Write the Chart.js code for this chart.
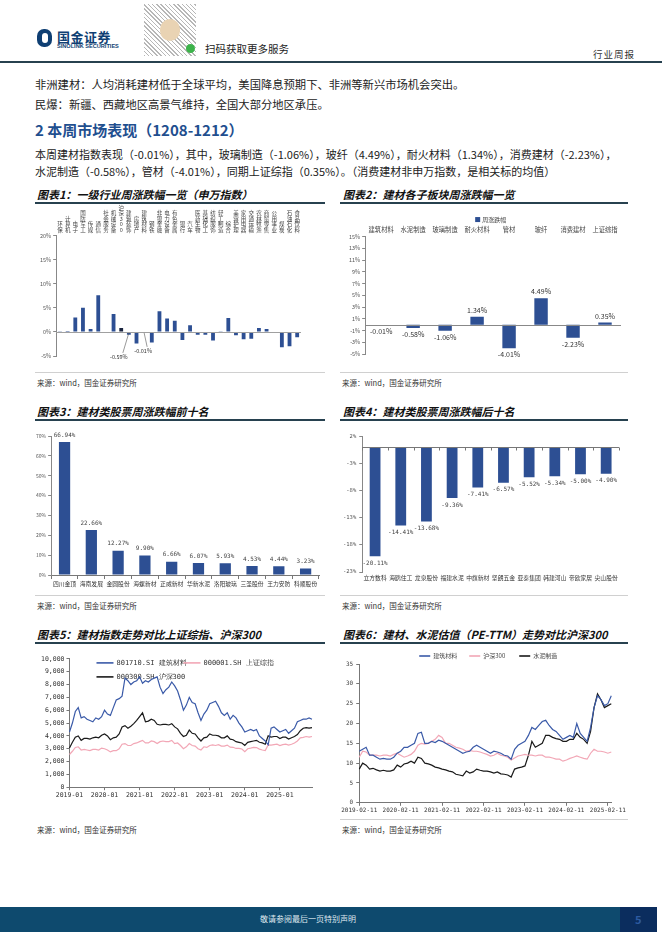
<!DOCTYPE html>
<html><head><meta charset="utf-8">
<script src="https://cdn.jsdelivr.net/npm/chart.js@4.4.1/dist/chart.umd.min.js"></script>
<style>
body{margin:0;width:662px;height:936px;position:relative;background:#fff;font-family:"Noto Sans CJK SC",sans-serif;overflow:hidden;color:#222}
.abs{position:absolute;white-space:nowrap}
.txt{font-size:11.3px;left:35px;color:#222}
.title{font-size:11px;font-weight:bold;font-style:italic;color:#111}
.uline{height:1.5px;background:#27414f}
.src{font-size:7.5px;color:#333}
.sep{height:1px;background:#d0d0d0}
canvas{position:absolute}
</style></head><body>
<!-- header -->
<div class="abs" style="left:37px;top:29px;width:15px;height:18px;border-radius:7px;background:#0f3f73"></div>
<div class="abs" style="left:42px;top:33px;width:6px;height:10px;border-radius:3px;background:#fff"></div>
<div class="abs" style="left:57px;top:27px;font-size:13px;font-weight:bold;color:#0f3f73;letter-spacing:0.5px">国金证券</div>
<div class="abs" style="left:57px;top:43px;font-size:5.6px;font-weight:bold;color:#0f3f73;font-family:'Liberation Sans',sans-serif">SINOLINK SECURITIES</div>
<div class="abs" style="left:144px;top:4px;width:52px;height:52px;background:repeating-linear-gradient(45deg,#999 0 1px,#fff 1px 3px),repeating-linear-gradient(-45deg,#bbb 0 1px,transparent 1px 4px);opacity:0.7"></div>
<div class="abs" style="left:160px;top:19px;width:20px;height:22px;border-radius:10px;background:#e9d3b3"></div>
<div class="abs" style="left:186px;top:44px;width:9px;height:9px;border-radius:5px;background:#3cb34a"></div>
<div class="abs" style="left:205px;top:41px;font-size:10.5px;color:#222">扫码获取更多服务</div>
<div class="abs" style="left:593px;top:47px;font-size:9.5px;color:#333;letter-spacing:1px">行业周报</div>
<div class="abs" style="left:0;top:61px;width:662px;height:1.5px;background:#27414f"></div>

<div class="abs txt" style="top:76px">非洲建材：人均消耗建材低于全球平均，美国降息预期下、非洲等新兴市场机会突出。</div>
<div class="abs txt" style="top:96px">民爆：新疆、西藏地区高景气维持，全国大部分地区承压。</div>
<div class="abs" style="left:35px;top:119px;font-size:15px;font-weight:bold;color:#1f4f8f">2 本周市场表现（1208-1212）</div>
<div class="abs txt" style="top:146px;font-size:11px">本周建材指数表现（-0.01%），其中，玻璃制造（-1.06%），玻纤（4.49%），耐火材料（1.34%），消费建材（-2.23%），</div>
<div class="abs txt" style="top:163px;font-size:11px">水泥制造（-0.58%），管材（-4.01%），同期上证综指（0.35%）。（消费建材非申万指数，是相关标的均值）</div>

<!-- chart titles row 1 -->
<div class="abs title" style="left:37px;top:186px">图表1：一级行业周涨跌幅一览（申万指数）</div>
<div class="abs uline" style="left:35px;top:202px;width:290px"></div>
<div class="abs title" style="left:343px;top:186px">图表2：建材各子板块周涨跌幅一览</div>
<div class="abs uline" style="left:340px;top:202px;width:288px"></div>
<div class="abs sep" style="left:35px;top:372px;width:290px"></div>
<div class="abs sep" style="left:340px;top:372px;width:288px"></div>
<div class="abs src" style="left:37px;top:377px">来源：wind，国金证券研究所</div>
<div class="abs src" style="left:342px;top:377px">来源：wind，国金证券研究所</div>

<div class="abs title" style="left:37px;top:403px">图表3：建材类股票周涨跌幅前十名</div>
<div class="abs uline" style="left:35px;top:419px;width:290px"></div>
<div class="abs title" style="left:343px;top:403px">图表4：建材类股票周涨跌幅后十名</div>
<div class="abs uline" style="left:340px;top:419px;width:288px"></div>
<div class="abs sep" style="left:35px;top:595px;width:290px"></div>
<div class="abs sep" style="left:340px;top:595px;width:288px"></div>
<div class="abs src" style="left:37px;top:600px">来源：wind，国金证券研究所</div>
<div class="abs src" style="left:342px;top:600px">来源：wind，国金证券研究所</div>

<div class="abs title" style="left:37px;top:626px">图表5：建材指数走势对比上证综指、沪深300</div>
<div class="abs uline" style="left:35px;top:642px;width:290px"></div>
<div class="abs title" style="left:343px;top:626px">图表6：建材、水泥估值（PE-TTM）走势对比沪深300</div>
<div class="abs uline" style="left:340px;top:642px;width:288px"></div>
<div class="abs sep" style="left:340px;top:819px;width:288px"></div>
<div class="abs src" style="left:37px;top:824px">来源：wind，国金证券研究所</div>
<div class="abs src" style="left:342px;top:824px">来源：wind，国金证券研究所</div>

<!-- footer -->
<div class="abs" style="left:0;top:907px;width:620px;height:25px;background:#0e4a6e"></div>
<div class="abs" style="left:620px;top:907px;width:37px;height:25px;background:#0b2d5e"></div>
<div class="abs" style="left:260px;top:913px;font-size:8px;color:#dfe8ef">敬请参阅最后一页特别声明</div>
<div class="abs" style="left:635px;top:911px;font-size:11px;color:#2d5aa0;font-weight:bold">5</div>

<canvas id="c1" width="270" height="166" style="left:35px;top:200px"></canvas>
<canvas id="c2" width="292" height="150" style="left:335px;top:210px"></canvas>
<canvas id="c3" width="295" height="159" style="left:30px;top:431px"></canvas>
<canvas id="c4" width="292" height="155" style="left:335px;top:430px"></canvas>
<canvas id="c5" width="292" height="147" style="left:30px;top:653px"></canvas>
<canvas id="c6" width="292" height="168" style="left:335px;top:647px"></canvas>

<script>
// ---------- data ----------
const c1Labels = ['环保','计算机','电子','国防军工','传媒','通信','社会服务','机械设备','沪深300','建筑装饰','房地产','建筑材料','钢铁','非银金融','电力设备','有色金属','银行','汽车','医药生物','基础化工','纺织服饰','轻工制造','综合','美容护理','家用电器','交通运输','农林牧渔','商贸零售','公用事业','煤炭','石油石化','食品饮料'];
const c1Values = [0.05,0.2,3.0,5.0,0.6,7.6,0.1,3.7,0.8,-0.59,-2.4,-0.01,-2.2,4.3,2.8,2.3,-1.7,1.4,-0.6,-0.6,-1.8,0.05,2.9,-0.7,-1.5,-1.4,0.8,0.6,-0.1,-3.2,-3.0,-1.1];

const c2Labels = ['建筑材料','水泥制造','玻璃制造','耐火材料','管材','玻纤','消费建材','上证综指'];
const c2Values = [-0.01,-0.58,-1.06,1.34,-4.01,4.49,-2.23,0.35];

const c3Labels = ['四川金顶','海南发展','金圆股份','海螺新材','正威新材','华新水泥','洛阳玻璃','三圣股份','王力安防','科顺股份'];
const c3Values = [66.94,22.66,12.27,9.90,6.66,6.07,5.93,4.53,4.44,3.23];

const c4Labels = ['立方数科','海鸥住工','龙泉股份','福建水泥','中旗新材','坚朗五金','亚泰集团','韩建河山','帝欧家居','尖山股份'];
const c4Values = [-20.11,-14.41,-13.68,-9.36,-7.41,-6.57,-5.52,-5.34,-5.00,-4.90];

const c5Months = [];
for (let y = 2019; y <= 2025; y++) for (let m = 1; m <= 12; m++) c5Months.push(y + '-' + String(m).padStart(2,'0'));
const c5Building = [4300,5000,5900,6200,5400,5500,5300,5200,5100,5400,5300,5500,
 6000,5700,5600,6200,6800,6900,7100,8500,8300,8000,8200,8300,
 8600,8100,8300,8200,8400,8500,8600,7800,7300,7600,7800,8200,
 7900,7500,6800,6000,6400,7000,6600,6500,5800,5200,5700,6000,
 6500,6600,6700,6300,5800,5600,5800,5300,5600,5400,5000,4700,
 4300,4400,4500,4400,4500,4000,3800,3600,3300,4600,4700,4500,
 4300,4400,4500,4200,4400,4600,5100,5200,5300,5300,5400,5300];
const c5SSE = [2550,2800,3100,3150,2900,2950,2900,2850,2950,2950,2900,3050,
 3000,2900,2750,2850,2850,3000,3350,3400,3250,3250,3400,3450,
 3550,3650,3450,3450,3600,3550,3400,3550,3600,3550,3550,3650,
 3400,3450,3250,3000,3150,3400,3250,3200,3000,2900,3150,3100,
 3250,3300,3250,3320,3200,3200,3280,3120,3110,3020,3030,2980,
 2770,3000,3040,3100,3090,2970,2900,2850,3300,3280,3320,3350,
 3250,3320,3350,3280,3350,3450,3600,3850,3880,3950,3900,3950];
const c5HS300 = [3050,3500,3900,4000,3650,3800,3800,3750,3850,3900,3850,4050,
 4150,4000,3700,3850,3900,4150,4700,4800,4600,4750,4950,5200,
 5500,5800,5100,5150,5300,5200,4900,4850,4900,4900,4850,4950,
 4700,4550,4200,3950,4050,4450,4200,4150,3850,3600,3850,3900,
 4150,4050,4050,4000,3850,3850,4000,3750,3700,3550,3500,3450,
 3250,3500,3550,3600,3650,3500,3450,3350,4000,3900,3950,3950,
 3800,3900,3900,3750,3850,3950,4100,4400,4600,4650,4600,4650];

const c6Dates = [];
for (let i = 0; i < 74; i++) { const t = 1 + i; const y = 2019 + Math.floor(t/12); const m = t % 12 + 1; c6Dates.push(y + '-' + String(m).padStart(2,'0') + '-11'); }
const c6Building = [13,13.5,14,12,12,11.5,11,11.2,11,11,11.5,12.5,
 13,14,14,14.5,15,17.5,17.8,15,15,15.5,15.2,15.8,
 15.5,15,14.5,14,13.5,13,12.5,12.8,13,14,14.5,14,
 13.5,13,12.5,13,12.8,12.5,12,11.8,11,13.5,14.5,15,
 15.5,17,19,18.5,19.5,20.5,20.8,19.5,18.5,18,17,16,
 16.5,17,16.5,20,17.5,16.5,15.5,19,24,27,26,24.5,25,27];
const c6HS300 = [11.5,13,12.8,12,12,12,11.8,12,12,11.8,12.2,12.5,
 12,11.5,11.8,12.2,13,14.5,15,14.8,15,15.5,16,17,
 16.5,15,15,14.5,14,13.8,13.5,13,13.2,13,13,12.8,
 12.5,12.2,11.8,12,12.5,12,11.8,11.5,10.8,11.3,11.8,12,
 12.2,12,12,11.8,12,12,11.5,11.5,11.3,11,11,10.5,
 10.8,11.2,11.5,11.8,11.5,11.2,11,12.5,13.5,13,13,12.8,12.5,12.8];
const c6Cement = [8.5,10,9.5,8.5,8.7,8.3,8,8.2,8,8,8.3,9.5,
 9,9.8,10,10.5,10,11.5,11.2,10,9.8,9.5,9,8.8,
 8.5,8.3,8,7.8,7.2,7,6.8,8,7.5,7.8,8.5,8.2,
 8,8,7.8,7.5,7.8,7.3,7.2,7,6.5,8.5,8.8,9,
 9.3,12,15.5,14,14.5,15,17,17,16.5,16.2,16,15.5,
 15.5,16,16,17.5,16.5,16,15,18,24,27.5,26,24,24.5,25];

// ---------- helpers ----------
const BLUE = '#2d4f93';
const SANS = '"Noto Sans CJK SC", sans-serif';
const MONO = '"DejaVu Sans Mono", "Liberation Mono", monospace';

const valueLabels = {
  id: 'valueLabels',
  afterDatasetsDraw(chart, args, opts) {
    if (!opts || !opts.fmt) return;
    const ctx = chart.ctx, meta = chart.getDatasetMeta(0), data = chart.data.datasets[0].data;
    ctx.save(); ctx.font = opts.font; ctx.fillStyle = opts.color || '#333'; ctx.textAlign = 'center';
    meta.data.forEach((bar, i) => {
      const v = data[i]; const t = opts.fmt(v, i); if (t == null) return;
      if (v >= 0) { ctx.textBaseline = 'bottom'; ctx.fillText(t, bar.x, bar.y - (opts.gap || 3)); }
      else { ctx.textBaseline = 'top'; ctx.fillText(t, bar.x, bar.y + (opts.gap || 3)); }
    });
    ctx.restore();
  }
};
const zeroLine = {
  id: 'zeroLine',
  afterDatasetsDraw(chart, args, opts) {
    if (!opts || !opts.color) return;
    const y = Math.round(chart.scales.y.getPixelForValue(0)) + 0.5, a = chart.chartArea, ctx = chart.ctx;
    ctx.save(); ctx.strokeStyle = opts.color; ctx.lineWidth = 1;
    ctx.beginPath(); ctx.moveTo(a.left, y); ctx.lineTo(a.right, y); ctx.stroke();
    if (opts.ticks) {
      const n = chart.data.labels.length; const w = (a.right - a.left) / n;
      for (let i = 0; i <= n; i++) { const x = Math.round(a.left + i * w) + 0.5; ctx.beginPath(); ctx.moveTo(x, y); ctx.lineTo(x, y + 3); ctx.stroke(); }
    }
    ctx.restore();
  }
};
// legend drawn at fixed offsets from the chart area (items: [dx, dy, kind])
const fixedLegend = {
  id: 'fixedLegend',
  beforeDatasetsDraw(chart, args, opts) {
    if (!opts || !opts.items) return;
    const ctx = chart.ctx, a = chart.chartArea, ds = chart.data.datasets;
    ctx.save(); ctx.font = opts.font; ctx.textBaseline = 'middle'; ctx.fillStyle = opts.color || '#333';
    opts.items.forEach((it, i) => {
      const d = ds[i], x = a.left + it[0], y = a.top + it[1];
      if (opts.box) { ctx.fillStyle = d.backgroundColor; ctx.fillRect(x, y - 2.5, 5, 5); ctx.fillStyle = opts.color || '#333'; ctx.fillText(d.label, x + 7, y); }
      else {
        ctx.strokeStyle = d.borderColor; ctx.lineWidth = 1.6;
        ctx.beginPath(); ctx.moveTo(x, y); ctx.lineTo(x + opts.len, y); ctx.stroke();
        ctx.fillText(d.label, x + opts.len + 3, y);
      }
    });
    ctx.restore();
  }
};
const pct = v => v + '%';

// ---------- chart 1 ----------
const c1Callouts = {
  id: 'c1Callouts',
  afterDatasetsDraw(chart) {
    const ctx = chart.ctx, xs = chart.scales.x, ys = chart.scales.y;
    const items = [{i: 9, dx: -10, dy: 21}, {i: 11, dx: -1, dy: 15}];
    ctx.save(); ctx.strokeStyle = '#555'; ctx.lineWidth = 0.6; ctx.fillStyle = '#333';
    ctx.font = '5.5px ' + SANS; ctx.textAlign = 'center'; ctx.textBaseline = 'top';
    items.forEach(it => {
      const x = xs.getPixelForValue(it.i), y = ys.getPixelForValue(0);
      ctx.beginPath(); ctx.moveTo(x, y + 1); ctx.lineTo(x + it.dx + 4, y + it.dy); ctx.stroke();
      ctx.fillText(c1Values[it.i].toFixed(2) + '%', x + it.dx, y + it.dy + 1);
    });
    ctx.restore();
  }
};
new Chart(document.getElementById('c1'), {
  type: 'bar',
  data: { labels: c1Labels.map(s => s.split('')), datasets: [{ data: c1Values,
    backgroundColor: c1Values.map((v, i) => i === 8 ? '#1b2540' : BLUE), barPercentage: 0.5, categoryPercentage: 1 }] },
  options: {
    responsive: false, animation: false,
    layout: { padding: { left: 3, right: 4, top: 2, bottom: 10 } },
    plugins: { legend: { display: false }, tooltip: { enabled: false }, zeroLine: { color: '#a0a0a0' } },
    scales: {
      x: { position: 'top', grid: { display: false, drawTicks: false }, border: { display: false },
        ticks: { autoSkip: false, maxRotation: 0, padding: 3, color: '#444', font: { size: 5.5, family: SANS, lineHeight: 1.0 } } },
      y: { min: -5, max: 20, ticks: { stepSize: 5, callback: pct, color: '#555', font: { size: 5.5, family: SANS }, padding: 2 },
        grid: { display: true, drawOnChartArea: false, tickLength: 3, color: '#888' }, border: { color: '#888' } }
    }
  },
  plugins: [zeroLine, c1Callouts]
});

// ---------- chart 2 ----------
new Chart(document.getElementById('c2'), {
  type: 'bar',
  data: { labels: c2Labels, datasets: [{ label: '周涨跌幅', data: c2Values, backgroundColor: BLUE, barPercentage: 0.42, categoryPercentage: 1 }] },
  options: {
    responsive: false, animation: false,
    layout: { padding: { left: 12, right: 6, top: 13, bottom: 6 } },
    plugins: { legend: { display: false }, tooltip: { enabled: false }, zeroLine: { color: '#888' },
      fixedLegend: { items: [[110, -17]], box: true, font: '6px ' + SANS, color: '#444' },
      valueLabels: { fmt: v => v.toFixed(2) + '%', font: '7px ' + SANS, color: '#333', gap: 3 } },
    scales: {
      x: { position: 'top', grid: { display: false, drawTicks: false }, border: { display: false },
        ticks: { autoSkip: false, maxRotation: 0, padding: 3, color: '#444', font: { size: 6.3, family: SANS } } },
      y: { min: -5, max: 15, ticks: { stepSize: 2, callback: pct, color: '#555', font: { size: 5.5, family: SANS }, padding: 2 },
        grid: { display: true, drawOnChartArea: false, tickLength: 3, color: '#888' }, border: { color: '#888' } }
    }
  },
  plugins: [zeroLine, valueLabels, fixedLegend]
});

// ---------- chart 3 ----------
new Chart(document.getElementById('c3'), {
  type: 'bar',
  data: { labels: c3Labels, datasets: [{ data: c3Values, backgroundColor: BLUE, barPercentage: 0.42, categoryPercentage: 1 }] },
  options: {
    responsive: false, animation: false,
    layout: { padding: { left: 4, right: 6, top: 5, bottom: 2 } },
    plugins: { legend: { display: false }, tooltip: { enabled: false },
      valueLabels: { fmt: v => v.toFixed(2) + '%', font: '6px ' + MONO, color: '#444', gap: 4 } },
    scales: {
      x: { grid: { display: true, drawOnChartArea: false, tickLength: 4, color: '#777', offset: true }, border: { color: '#777' },
        ticks: { autoSkip: false, maxRotation: 0, padding: 1, color: '#333', font: { size: 5.8, family: SANS } } },
      y: { min: 0, max: 70, ticks: { stepSize: 10, callback: pct, color: '#555', font: { size: 5, family: SANS }, padding: 2 },
        grid: { display: true, drawOnChartArea: false, tickLength: 3, color: '#888' }, border: { color: '#888' } }
    }
  },
  plugins: [valueLabels]
});

// ---------- chart 4 ----------
new Chart(document.getElementById('c4'), {
  type: 'bar',
  data: { labels: c4Labels, datasets: [{ data: c4Values, backgroundColor: BLUE, barPercentage: 0.42, categoryPercentage: 1 }] },
  options: {
    responsive: false, animation: false,
    layout: { padding: { left: 5, right: 8, top: 6, bottom: 2 } },
    plugins: { legend: { display: false }, tooltip: { enabled: false }, zeroLine: { color: '#777', ticks: true },
      valueLabels: { fmt: v => v.toFixed(2) + '%', font: '6px ' + MONO, color: '#444', gap: 4 } },
    scales: {
      x: { grid: { display: false, drawTicks: false }, border: { display: false },
        ticks: { autoSkip: false, maxRotation: 0, padding: 2, color: '#333', font: { size: 5.8, family: SANS } } },
      y: { min: -23, max: 2, ticks: { stepSize: 5, callback: pct, color: '#555', font: { size: 5.5, family: MONO }, padding: 3 },
        grid: { display: true, drawOnChartArea: false, tickLength: 3, color: '#888' }, border: { color: '#888' } }
    }
  },
  plugins: [zeroLine, valueLabels]
});

// ---------- chart 5 ----------
new Chart(document.getElementById('c5'), {
  type: 'line',
  data: { labels: c5Months, datasets: [
    { label: '801710.SI 建筑材料', data: c5Building, borderColor: '#3a5aa8', borderWidth: 1.2, pointRadius: 0, tension: 0 },
    { label: '000001.SH 上证综指', data: c5SSE, borderColor: '#f2a7b6', borderWidth: 1.2, pointRadius: 0, tension: 0 },
    { label: '000300.SH 沪深300', data: c5HS300, borderColor: '#1a1a1a', borderWidth: 1.2, pointRadius: 0, tension: 0 }
  ] },
  options: {
    responsive: false, animation: false,
    layout: { padding: { left: 9, right: 10, top: 3, bottom: 0 } },
    plugins: { tooltip: { enabled: false }, legend: { display: false },
      fixedLegend: { items: [[27, 4], [114, 4], [27, 18]], len: 17, font: '7px ' + MONO, color: '#333' } },
    scales: {
      x: { grid: { display: true, drawOnChartArea: false, tickLength: 3, color: '#777' }, border: { color: '#777' }, offset: false,
        ticks: { autoSkip: false, maxRotation: 0, padding: 1, color: '#333', font: { size: 6.5, family: MONO },
          callback: function (v, i) { const l = c5Months[i]; return l.endsWith('-01') ? l : null; } } },
      y: { min: 0, max: 10000, ticks: { stepSize: 1000, callback: v => v.toLocaleString('en-US'), color: '#333', font: { size: 6.5, family: MONO }, padding: 2 },
        grid: { display: true, drawOnChartArea: false, tickLength: 3, color: '#777' }, border: { color: '#777' } }
    }
  },
  plugins: [fixedLegend]
});

// ---------- chart 6 ----------
new Chart(document.getElementById('c6'), {
  type: 'line',
  data: { labels: c6Dates, datasets: [
    { label: '建筑材料', data: c6Building, borderColor: '#3a5aa8', borderWidth: 1.2, pointRadius: 0, tension: 0 },
    { label: '沪深300', data: c6HS300, borderColor: '#f2a7b6', borderWidth: 1.2, pointRadius: 0, tension: 0 },
    { label: '水泥制造', data: c6Cement, borderColor: '#1a1a1a', borderWidth: 1.2, pointRadius: 0, tension: 0 }
  ] },
  options: {
    responsive: false, animation: false,
    layout: { padding: { left: 8, right: 6, top: 17, bottom: 0 } },
    plugins: { tooltip: { enabled: false }, legend: { display: false },
      fixedLegend: { items: [[60, -8], [110, -8], [160, -8]], len: 11, font: '6px ' + SANS, color: '#444' } },
    scales: {
      x: { grid: { display: true, drawOnChartArea: false, tickLength: 3, color: '#777' }, border: { color: '#777' }, offset: false,
        ticks: { autoSkip: false, maxRotation: 0, padding: 1, color: '#333', font: { size: 6, family: MONO },
          callback: function (v, i) { const l = c6Dates[i]; return l.substr(5, 2) === '02' ? l : null; } } },
      y: { min: 0, max: 35, ticks: { stepSize: 5, color: '#444', font: { size: 6, family: MONO }, padding: 3 },
        grid: { display: true, drawOnChartArea: false, tickLength: 3, color: '#777' }, border: { color: '#777' } }
    }
  },
  plugins: [fixedLegend]
});
</script>
</body></html>
